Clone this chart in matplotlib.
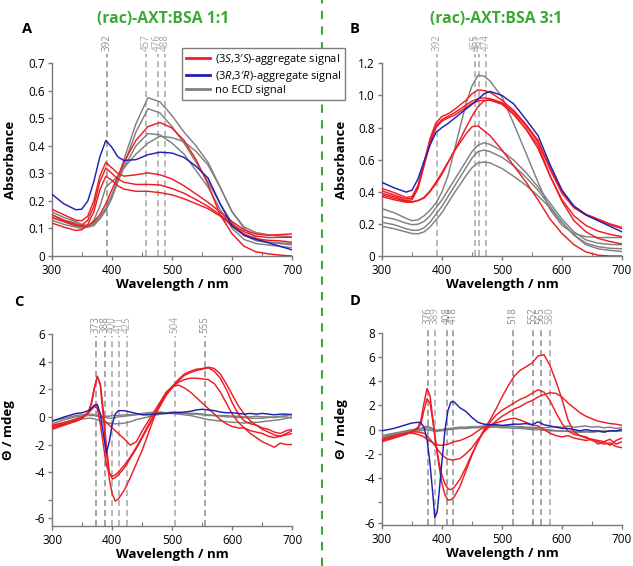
import matplotlib
matplotlib.use('Agg')
import matplotlib.pyplot as plt
from matplotlib.lines import Line2D
from matplotlib.ticker import FixedLocator, MultipleLocator
import matplotlib.transforms as mtransforms

plt.rcParams['font.family'] = ['Open Sans', 'DejaVu Sans']
plt.rcParams['mathtext.fontset'] = 'custom'
plt.rcParams['mathtext.rm'] = 'Open Sans'
plt.rcParams['mathtext.it'] = 'Open Sans:italic'

# ---------------- data ----------------
# Panel A: absorbance, (rac)-AXT:BSA 1:1
wl_A = [300, 320, 340, 350, 360, 370, 380, 390, 400, 410,
        420, 440, 460, 480, 500, 520, 540, 560, 580, 600,
        620, 640, 660, 680, 700]
A_blue = [0.225, 0.19, 0.168, 0.17, 0.2, 0.27, 0.36, 0.42, 0.395, 0.36,
          0.347, 0.35, 0.368, 0.377, 0.374, 0.358, 0.326, 0.283, 0.19, 0.108,
          0.075, 0.06, 0.048, 0.035, 0.022]
A_red = [
    [0.15, 0.13, 0.115, 0.108, 0.11, 0.125, 0.15, 0.19, 0.24, 0.29,
     0.34, 0.42, 0.47, 0.485, 0.465, 0.42, 0.35, 0.26, 0.15, 0.08,
     0.035, 0.015, 0.008, 0.003, 0.0],
    [0.17, 0.15, 0.13, 0.128, 0.145, 0.2, 0.29, 0.34, 0.32, 0.3,
     0.29, 0.295, 0.302, 0.295, 0.28, 0.255, 0.225, 0.195, 0.16, 0.125,
     0.095, 0.08, 0.075, 0.078, 0.08],
    [0.14, 0.125, 0.11, 0.112, 0.13, 0.18, 0.27, 0.32, 0.3, 0.28,
     0.268, 0.26, 0.26, 0.258, 0.245, 0.228, 0.205, 0.18, 0.15, 0.115,
     0.088, 0.072, 0.067, 0.068, 0.068],
    [0.12, 0.105, 0.093, 0.095, 0.115, 0.16, 0.24, 0.29, 0.275, 0.255,
     0.243, 0.235, 0.235, 0.23, 0.222, 0.208, 0.19, 0.172, 0.145, 0.11,
     0.08, 0.062, 0.057, 0.055, 0.05],
]
A_grey = [
    [0.16, 0.14, 0.125, 0.115, 0.11, 0.12, 0.14, 0.175, 0.22, 0.28,
     0.35, 0.48, 0.575, 0.56, 0.51, 0.45, 0.4, 0.34, 0.25, 0.16,
     0.105, 0.085, 0.077, 0.073, 0.07],
    [0.15, 0.13, 0.12, 0.11, 0.108, 0.115, 0.135, 0.165, 0.21, 0.27,
     0.33, 0.45, 0.535, 0.52, 0.47, 0.41, 0.34, 0.27, 0.19, 0.12,
     0.075, 0.055, 0.05, 0.048, 0.045],
    [0.14, 0.125, 0.11, 0.105, 0.105, 0.11, 0.135, 0.17, 0.22, 0.27,
     0.32, 0.4, 0.445, 0.44, 0.41, 0.37, 0.31, 0.25, 0.17, 0.1,
     0.06, 0.045, 0.04, 0.035, 0.03],
    [0.13, 0.115, 0.105, 0.1, 0.105, 0.13, 0.18, 0.25, 0.27, 0.29,
     0.32, 0.37, 0.41, 0.435, 0.43, 0.415, 0.38, 0.33, 0.25, 0.16,
     0.1, 0.065, 0.05, 0.045, 0.04],
]
marks_A = [392, 457, 476, 488]

# Panel B: absorbance, (rac)-AXT:BSA 3:1
wl_B = [300, 320, 340, 350, 360, 370, 380, 390, 400, 410,
        420, 440, 450, 460, 470, 480, 500, 520, 540, 560,
        580, 600, 620, 640, 660, 680, 700]
B_blue = [0.458, 0.425, 0.398, 0.41, 0.48, 0.59, 0.69, 0.77, 0.8, 0.825,
          0.855, 0.915, 0.945, 0.975, 1.01, 1.025, 1.0, 0.945, 0.85, 0.75,
          0.57, 0.41, 0.31, 0.255, 0.22, 0.185, 0.15]
B_red = [
    [0.42, 0.395, 0.365, 0.37, 0.44, 0.58, 0.73, 0.83, 0.87, 0.885,
     0.91, 0.97, 1.01, 1.035, 1.03, 1.02, 0.97, 0.905, 0.82, 0.72,
     0.55, 0.4, 0.31, 0.26, 0.23, 0.2, 0.178],
    [0.405, 0.38, 0.355, 0.36, 0.43, 0.57, 0.71, 0.81, 0.85, 0.87,
     0.89, 0.94, 0.965, 0.98, 0.985, 0.98, 0.955, 0.895, 0.81, 0.71,
     0.54, 0.39, 0.3, 0.255, 0.225, 0.195, 0.17],
    [0.39, 0.37, 0.345, 0.35, 0.42, 0.56, 0.7, 0.8, 0.84, 0.86,
     0.875, 0.925, 0.95, 0.965, 0.97, 0.97, 0.945, 0.88, 0.79, 0.69,
     0.5, 0.35, 0.25, 0.19, 0.155, 0.135, 0.12],
    [0.38, 0.36, 0.34, 0.338, 0.345, 0.36, 0.4, 0.45, 0.51, 0.58,
     0.65, 0.8, 0.87, 0.93, 0.965, 0.975, 0.95, 0.88, 0.79, 0.67,
     0.5, 0.34, 0.22, 0.15, 0.11, 0.09, 0.075],
    [0.37, 0.35, 0.335, 0.335, 0.345, 0.365, 0.405, 0.46, 0.52, 0.585,
     0.65, 0.76, 0.805, 0.81, 0.78, 0.75, 0.66, 0.56, 0.46, 0.35,
     0.23, 0.14, 0.07, 0.025, 0.005, 0.0, 0.0],
]
B_grey = [
    [0.295, 0.27, 0.235, 0.22, 0.225, 0.25, 0.285, 0.33, 0.4, 0.5,
     0.65, 0.95, 1.06, 1.125, 1.12, 1.09, 0.99, 0.82, 0.64, 0.46,
     0.29, 0.19, 0.14, 0.12, 0.115, 0.115, 0.115],
    [0.245, 0.23, 0.205, 0.195, 0.198, 0.215, 0.25, 0.3, 0.35, 0.41,
     0.47, 0.59, 0.65, 0.69, 0.705, 0.695, 0.655, 0.595, 0.52, 0.43,
     0.33, 0.23, 0.15, 0.1, 0.08, 0.072, 0.07],
    [0.21, 0.195, 0.17, 0.16, 0.16, 0.175, 0.21, 0.26, 0.31, 0.37,
     0.43, 0.55, 0.61, 0.65, 0.66, 0.65, 0.615, 0.56, 0.49, 0.41,
     0.31, 0.21, 0.13, 0.08, 0.058, 0.048, 0.045],
    [0.185, 0.17, 0.15, 0.14, 0.138, 0.15, 0.18, 0.225, 0.27, 0.33,
     0.39, 0.5, 0.55, 0.58, 0.585, 0.58, 0.545, 0.495, 0.44, 0.375,
     0.3, 0.21, 0.13, 0.07, 0.045, 0.035, 0.028],
]
marks_B = [392, 455, 461, 474]

# Panel C: ECD, (rac)-AXT:BSA 1:1
wl_C = [300, 320, 340, 350, 360, 365, 370, 375, 380, 385,
        390, 395, 400, 405, 410, 420, 430, 440, 450, 460,
        470, 480, 490, 500, 510, 520, 530, 540, 550, 560,
        570, 580, 590, 600, 610, 620, 630, 640, 650, 660,
        670, 680, 690, 700]
C_blue = [-0.3, 0.0, 0.25, 0.3, 0.45, 0.6, 0.85, 0.9, 0.2, -1.2,
          -2.6, -1.8, -0.5, 0.2, 0.45, 0.45, 0.35, 0.25, 0.15, 0.15,
          0.2, 0.25, 0.25, 0.3, 0.3, 0.35, 0.4, 0.5, 0.55, 0.5,
          0.45, 0.35, 0.3, 0.3, 0.25, 0.2, 0.25, 0.2, 0.25, 0.2,
          0.15, 0.2, 0.2, 0.15]
C_red = [
    [-0.9, -0.6, -0.3, -0.1, 0.3, 0.9, 2.0, 2.95, 2.3, 0.0,
     -2.5, -4.5, -5.6, -6.1, -5.95, -5.3, -4.4, -3.4, -2.4, -1.2,
     0.0, 0.9, 1.6, 2.1, 2.6, 3.0, 3.2, 3.35, 3.45, 3.55,
     3.3, 2.8, 2.0, 1.0, 0.2, -0.3, -0.5, -0.6, -0.8, -0.9,
     -1.1, -1.2, -1.0, -0.9],
    [-0.8, -0.55, -0.25, -0.05, 0.35, 1.0, 2.1, 2.9, 2.4, 0.5,
     -2.0, -4.0, -4.5, -4.4, -4.2, -3.7, -3.0, -2.3, -1.5, -0.7,
     0.1, 0.8, 1.6, 2.2, 2.7, 3.1, 3.3, 3.45, 3.5, 3.6,
     3.5, 3.1, 2.4, 1.6, 0.8, 0.2, -0.3, -0.6, -0.9, -1.1,
     -1.3, -1.4, -1.2, -1.0],
    [-0.7, -0.5, -0.3, -0.1, 0.3, 0.6, 0.8, 0.6, -0.5, -2.0,
     -3.5, -4.1, -4.3, -4.2, -4.0, -3.5, -2.9, -2.2, -1.4, -0.6,
     0.2, 1.0, 1.7, 2.2, 2.5, 2.7, 2.8, 2.8, 2.75, 2.7,
     2.4, 1.8, 1.0, 0.2, -0.4, -0.8, -1.2, -1.5, -1.8, -2.0,
     -2.2, -1.9, -2.0, -2.0],
    [-0.6, -0.4, -0.15, 0.0, 0.3, 0.5, 0.75, 0.7, 0.2, -0.2,
     -0.4, -0.6, -0.8, -1.0, -1.2, -1.6, -2.05, -1.8, -1.0, -0.3,
     0.4, 1.1, 1.8, 2.2, 2.3, 2.1, 1.8, 1.4, 1.0, 0.6,
     0.2, -0.2, -0.5, -0.7, -0.8, -0.8, -1.0, -1.1, -1.2, -1.4,
     -1.5, -1.4, -1.3, -1.2],
]
C_grey = [
    [-0.7, -0.4, -0.2, -0.15, -0.1, -0.1, -0.15, -0.2, -0.3, -0.35,
     -0.4, -0.45, -0.5, -0.5, -0.5, -0.45, -0.35, -0.2, -0.1, 0.0,
     0.1, 0.2, 0.25, 0.25, 0.2, 0.15, 0.1, 0.0, -0.1, -0.2,
     -0.25, -0.3, -0.35, -0.4, -0.4, -0.45, -0.4, -0.4, -0.35, -0.3,
     -0.25, -0.2, -0.1, 0.0],
    [-0.5, -0.2, 0.0, 0.05, 0.1, 0.1, 0.1, 0.05, 0.0, 0.0,
     0.05, 0.05, 0.1, 0.1, 0.1, 0.15, 0.15, 0.2, 0.25, 0.3,
     0.35, 0.35, 0.3, 0.3, 0.25, 0.25, 0.2, 0.2, 0.15, 0.1,
     0.1, 0.05, 0.0, 0.0, -0.05, -0.05, -0.1, -0.1, -0.1, -0.05,
     0.0, 0.05, 0.1, 0.2],
    [-0.3, -0.1, 0.1, 0.15, 0.2, 0.2, 0.15, 0.1, 0.05, 0.0,
     -0.05, -0.1, -0.1, -0.05, 0.0, 0.05, 0.1, 0.15, 0.2, 0.25,
     0.3, 0.3, 0.3, 0.35, 0.35, 0.3, 0.25, 0.25, 0.2, 0.15,
     0.1, 0.1, 0.1, 0.05, 0.05, 0.0, 0.0, 0.05, 0.0, 0.0,
     -0.05, 0.0, 0.0, -0.1],
]
marks_C = [373, 388, 400, 411, 425, 504, 555]

# Panel D: ECD, (rac)-AXT:BSA 3:1
wl_D = [300, 320, 340, 350, 360, 365, 370, 375, 380, 385,
        388, 392, 395, 400, 405, 410, 415, 420, 430, 440,
        450, 460, 470, 480, 490, 500, 510, 520, 530, 540,
        550, 560, 570, 580, 590, 600, 610, 620, 630, 640,
        650, 660, 670, 680, 690, 700]
D_blue = [-0.1, 0.1, 0.4, 0.55, 0.6, 0.55, 0.2, -0.8, -2.8, -5.5,
          -7.3, -6.8, -5.3, -2.6, 0.0, 1.6, 2.3, 2.3, 1.8, 1.5,
          1.0, 0.6, 0.45, 0.4, 0.4, 0.35, 0.4, 0.45, 0.45, 0.5,
          0.4, 0.65, 0.4, 0.3, 0.2, 0.1, 0.1, 0.0, -0.1, 0.0,
          -0.1, -0.1, -0.2, -0.1, -0.1, 0.0]
D_red = [
    [-1.0, -0.7, -0.4, -0.2, 0.2, 0.8, 2.2, 3.4, 2.8, 0.8,
     -0.5, -2.0, -3.0, -4.5, -5.4, -5.85, -5.8, -5.6, -4.7, -3.4,
     -2.1, -1.0, 0.0, 0.8, 1.7, 2.7, 3.6, 4.4, 4.9, 5.2,
     5.5, 6.1, 6.2, 5.3, 4.0, 2.5, 0.8, -0.2, -0.5, -0.7,
     -0.8, -0.9, -1.0, -0.8, -1.2, -1.0],
    [-0.9, -0.6, -0.35, -0.15, 0.1, 0.5, 1.6, 2.55, 2.2, 0.6,
     -0.5, -1.8, -2.7, -3.8, -4.5, -4.9, -4.97, -4.8, -4.1, -3.1,
     -2.0, -1.0, -0.1, 0.6, 1.2, 1.6, 1.9, 2.2, 2.5, 2.7,
     3.0, 3.3, 3.1, 2.4, 1.4, 0.5, -0.1, -0.4, -0.5, -0.6,
     -0.9, -1.0, -1.2, -1.1, -1.4, -1.5],
    [-0.9, -0.6, -0.3, -0.2, -0.2, -0.25, -0.3, -0.5, -0.8, -1.1,
     -1.3, -1.6, -1.8, -2.1, -2.3, -2.45, -2.5, -2.5, -2.4, -2.0,
     -1.5, -0.8, -0.2, 0.3, 0.7, 1.1, 1.4, 1.7, 1.9, 2.2,
     2.4, 2.7, 2.9, 3.05, 3.0, 2.7, 2.2, 1.8, 1.4, 1.1,
     0.9, 0.7, 0.6, 0.5, 0.45, 0.35],
    [-0.8, -0.5, -0.3, -0.3, -0.4, -0.5, -0.6, -0.8, -0.95, -1.1,
     -1.2, -1.25, -1.3, -1.3, -1.25, -1.2, -1.1, -1.0, -0.9, -0.7,
     -0.45, -0.1, 0.2, 0.4, 0.55, 0.7, 0.85, 0.95, 0.8, 0.6,
     0.4, 0.3, 0.0, -0.3, -0.5, -0.6, -0.5, -0.7, -0.8, -0.9,
     -0.8, -1.2, -1.0, -1.3, -0.9, -0.7],
]
D_grey = [
    [-0.7, -0.4, -0.2, -0.1, 0.0, 0.05, 0.1, 0.15, 0.1, 0.0,
     -0.05, -0.1, -0.1, -0.05, 0.0, 0.05, 0.05, 0.1, 0.1, 0.15,
     0.2, 0.2, 0.25, 0.3, 0.3, 0.3, 0.25, 0.25, 0.2, 0.15,
     0.1, 0.05, 0.0, 0.0, -0.1, -0.1, -0.15, -0.2, -0.2, -0.2,
     -0.2, -0.15, -0.1, -0.15, -0.1, -0.1],
    [-0.5, -0.3, -0.1, 0.0, 0.05, 0.1, 0.2, 0.3, 0.2, 0.05,
     0.0, -0.05, 0.0, 0.0, 0.05, 0.1, 0.1, 0.15, 0.2, 0.2,
     0.25, 0.25, 0.3, 0.3, 0.35, 0.3, 0.3, 0.25, 0.25, 0.2,
     0.2, 0.15, 0.15, 0.2, 0.25, 0.2, 0.3, 0.2, 0.25, 0.3,
     0.2, 0.25, 0.15, 0.2, 0.1, 0.15],
    [-0.6, -0.35, -0.2, -0.15, -0.1, -0.1, -0.05, 0.0, -0.05, -0.1,
     -0.15, -0.15, -0.1, -0.1, -0.05, 0.0, 0.0, 0.05, 0.1, 0.1,
     0.15, 0.15, 0.2, 0.2, 0.2, 0.15, 0.15, 0.1, 0.1, 0.05,
     0.0, 0.0, -0.05, -0.1, -0.1, -0.15, -0.1, -0.15, -0.2, -0.15,
     -0.2, -0.15, -0.2, -0.1, -0.15, -0.1],
]
marks_D = [376, 389, 408, 418, 518, 552, 565, 580]

titles = ['(rac)-AXT:BSA 1:1', '(rac)-AXT:BSA 3:1']
legend_labels = [r'(3$\it{S}$,3′$\it{S}$)-aggregate signal',
                 r'(3$\it{R}$,3′$\it{R}$)-aggregate signal',
                 'no ECD signal']

# ---------------- styling ----------------
RED = '#ee1c25'
BLUE = '#1f1fb4'
GREY = '#808080'
SPINE = '#7a7a7a'
GREEN = '#3aaa35'
MARK = '#a6a6a6'
MARK_DARK = '#8c8c8c'

W, H = 633, 566
fig = plt.figure(figsize=(W / 100, H / 100), dpi=100)


def px_axes(l, r, t, b):
    return fig.add_axes([l / W, 1 - b / H, (r - l) / W, (b - t) / H])


axA = px_axes(51.7, 292.3, 63.3, 256)
axB = px_axes(382, 622, 63.3, 256)
axC = px_axes(52.3, 292.3, 334, 526)
axD = px_axes(382, 622, 333, 525)


def draw(ax, wl, greys, reds, blue):
    for g in greys:
        ax.plot(wl, g, color=GREY, lw=1.05, zorder=3)
    for r in reds:
        ax.plot(wl, r, color=RED, lw=1.05, zorder=4)
    ax.plot(wl, blue, color=BLUE, lw=1.05, zorder=5)


def style(ax, ylim, yticks, ylabels, ylabel, marks, mark_top, dark, label_x):
    ax.set_xlim(300, 700)
    ax.set_ylim(*ylim)
    for s in ['top', 'right']:
        ax.spines[s].set_visible(False)
    for s in ['left', 'bottom']:
        ax.spines[s].set_color(SPINE)
        ax.spines[s].set_linewidth(1.0)
    ax.xaxis.set_major_locator(FixedLocator([300, 400, 500, 600, 700]))
    ax.xaxis.set_minor_locator(MultipleLocator(50))
    ax.yaxis.set_major_locator(FixedLocator(yticks))
    ax.set_yticklabels(ylabels)
    ax.tick_params(axis='both', which='major', direction='out', length=3,
                   width=1.0, color=SPINE, labelsize=8.5, pad=2)
    ax.tick_params(axis='x', which='minor', direction='in', length=3,
                   width=0.8, color=SPINE)
    ax.tick_params(axis='x', which='major', pad=3)
    ax.set_xlabel('Wavelength / nm', fontsize=9.5, fontweight='bold')
    ax.xaxis.set_label_coords(0.5, -0.115)
    ax.set_ylabel(ylabel, fontsize=9.5, fontweight='bold')
    ax.yaxis.set_label_coords(label_x, 0.5)
    trans = mtransforms.blended_transform_factory(ax.transData, ax.transAxes)
    for m in marks:
        c = MARK_DARK if m in dark else MARK
        ax.plot([m, m], [0, mark_top], transform=trans, color=c, lw=1.1,
                ls=(0, (4, 2.5)), clip_on=False, zorder=2)
        ax.text(m, mark_top + 0.015, str(m), transform=trans, rotation=90,
                ha='center', va='bottom', fontsize=7, color=c)


draw(axA, wl_A, A_grey, A_red, A_blue)
draw(axB, wl_B, B_grey, B_red, B_blue)
draw(axC, wl_C, C_grey, C_red, C_blue)
draw(axD, wl_D, D_grey, D_red, D_blue)

style(axA, (0, 0.7), [0, 0.1, 0.2, 0.3, 0.4, 0.5, 0.6, 0.7],
      ['0', '0.1', '0.2', '0.3', '0.4', '0.5', '0.6', '0.7'],
      'Absorbance', marks_A, 1.05, [392], -0.145)
style(axB, (0, 1.2), [0, 0.2, 0.4, 0.6, 0.8, 1.0, 1.2],
      ['0', '0.2', '0.4', '0.6', '0.8', '1.0', '1.2'],
      'Absorbance', marks_B, 1.05, [], -0.142)
style(axC, (-7.9, 6), [-7.35, -6, -4, -2, 0, 2, 4, 6],
      ['-6', '', '-4', '-2', '0', '2', '4', '6'],
      'Θ / mdeg', marks_C, 0.99, [373, 388, 555], -0.155)
style(axD, (-7.9, 8), [-7.7, -6, -4, -2, 0, 2, 4, 6, 8],
      ['-6', '', '-4', '-2', '0', '2', '4', '6', '8'],
      'Θ / mdeg', marks_D, 1.03, [376, 408, 418, 518, 552, 565], -0.142)

# titles, panel letters
fig.text(163 / W, 1 - 19 / H, titles[0], color=GREEN, fontsize=11.3,
         fontweight='bold', ha='center', va='center')
fig.text(496 / W, 1 - 19 / H, titles[1], color=GREEN, fontsize=11.3,
         fontweight='bold', ha='center', va='center')
for lab, x, y in [('A', 27, 29), ('B', 355, 29), ('C', 19, 302), ('D', 355, 301)]:
    fig.text(x / W, 1 - y / H, lab, fontsize=10.5, fontweight='bold',
             ha='center', va='center')

# green separator
fig.add_artist(Line2D([322 / W, 322 / W], [0, 1], transform=fig.transFigure,
                      color=GREEN, lw=1.5, ls=(0, (4, 3.5)), zorder=1))

# legend
handles = [Line2D([], [], color=RED, lw=2.0),
           Line2D([], [], color=BLUE, lw=2.0),
           Line2D([], [], color=GREY, lw=2.0)]
leg = fig.legend(handles, legend_labels, loc='upper left',
                 bbox_to_anchor=(182 / W, 1 - 48 / H), fontsize=8,
                 frameon=True, fancybox=False, edgecolor='#7f7f7f',
                 framealpha=1, borderaxespad=0, handlelength=2.2,
                 handletextpad=0.4, borderpad=0.35, labelspacing=0.15)
leg.get_frame().set_linewidth(1.0)
leg.set_zorder(10)

fig.savefig('out.png', dpi=100)
